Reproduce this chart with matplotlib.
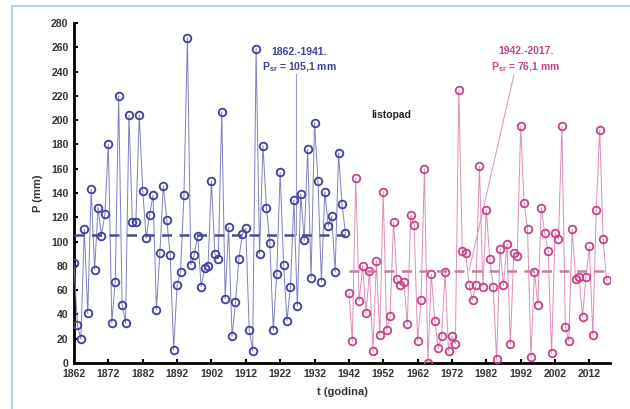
import numpy as np
import matplotlib
matplotlib.use("Agg")
import matplotlib.pyplot as plt
from matplotlib.lines import Line2D

plt.rcParams['font.family'] = ['Liberation Sans', 'DejaVu Sans']
plt.rcParams['mathtext.fontset'] = 'custom'
plt.rcParams['mathtext.rm'] = 'Liberation Sans:bold'
plt.rcParams['mathtext.it'] = 'Liberation Sans:bold'

# November precipitation, two periods
years1 = list(range(1862, 1942))
p1 = [82, 31, 20, 110, 41, 143, 77, 128, 105, 123,
      180, 33, 67, 220, 48, 33, 204, 116, 116, 204,
      142, 103, 122, 138, 44, 91, 146, 118, 89, 11,
      64, 75, 138, 268, 81, 89, 105, 63, 78, 80,
      150, 90, 86, 207, 53, 112, 22, 50, 86, 106,
      111, 27, 10, 259, 90, 179, 128, 99, 27, 73,
      157, 81, 35, 63, 134, 47, 139, 101, 176, 70,
      198, 150, 67, 141, 113, 121, 75, 173, 131, 107]
years2 = list(range(1942, 2018))
p2 = [58, 18, 152, 51, 80, 41, 76, 10, 84, 23,
      141, 27, 39, 116, 69, 64, 67, 32,
      122, 114, 18, 52, 160, 0, 73, 35, 12, 22,
      75, 10, 22, 16, 225, 92, 91, 64, 52, 64,
      162, 63, 126, 86, 63, 3, 94, 64, 98, 16,
      91, 88, 195, 132, 110, 5, 75, 48, 128, 107,
      92, 8, 107, 102, 195, 30, 18, 110, 69, 71,
      38, 71, 96, 23, 126, 192, 102, 68]
mean1 = 105.1
mean2 = 76.1
xticks = list(range(1862, 2013, 10))
yticks = list(range(0, 281, 20))

blue = "#3f3f9e"
blue_line = "#7f7fc4"
pink = "#c8408a"
pink_line = "#e08cb8"

fig = plt.figure(figsize=(6.3, 4.09), dpi=100)
ax = fig.add_axes([74/630, 1 - 363/409, 536/630, 340/409])

ax.plot(years1, p1, color=blue_line, lw=0.7, marker='o', ms=5.5,
        mfc='none', mec=blue, mew=1.3, zorder=3)
ax.plot(years2, p2, color=pink_line, lw=0.7, marker='o', ms=5.5,
        mfc='none', mec=pink, mew=1.3, zorder=3)
ax.plot([years1[0], years1[-1]], [mean1, mean1], color="#4a4a8c", lw=1.8,
        ls=(0, (4, 3)), zorder=4)
ax.plot([years2[0], years2[-1]], [mean2, mean2], color="#c87aa6", lw=1.8,
        ls=(0, (4, 3)), zorder=4)

ax.set_xlim(1862, 2018)
ax.set_ylim(0, 280)
ax.set_xticks(xticks)
ax.set_yticks(yticks)
ax.tick_params(direction='in', length=3, width=1.5, labelsize=7.5,
               labelcolor="#333333", pad=4)
for lab in ax.get_xticklabels() + ax.get_yticklabels():
    lab.set_fontweight('bold')
for s in ['top', 'right']:
    ax.spines[s].set_visible(False)
for s in ['left', 'bottom']:
    ax.spines[s].set_linewidth(2)
ax.set_ylabel("P (mm)", fontsize=8, fontweight='bold', color="#333333", labelpad=6)
ax.set_xlabel("t (godina)", fontsize=8, fontweight='bold', color="#333333", labelpad=6)

# annotations
ax.text(1927.5, 256, "1862.-1941.", color=blue, fontsize=7.5,
        fontweight='bold', ha='center', va='center')
ax.text(1927.5, 244, "P$_{sr}$ = 105,1 mm", color=blue, fontsize=7.5,
        fontweight='bold', ha='center', va='center')
ax.plot([1926.5, 1926.5], [238, mean1], color="#9a9ac8", lw=0.8, zorder=2)

ax.text(1993.5, 257, "1942.-2017.", color=pink, fontsize=7.5,
        fontweight='bold', ha='center', va='center')
ax.text(1993.5, 244, "P$_{sr}$ = 76,1 mm", color=pink, fontsize=7.5,
        fontweight='bold', ha='center', va='center')
ax.plot([1990, 1977], [237, mean2], color="#d8a0c0", lw=0.8, zorder=2)

ax.text(1948.5, 204, "listopad", color="#222222", fontsize=7.5,
        fontweight='bold', va='center')

# light blue frame
fig.add_artist(Line2D([12/630, 12/630], [0, 1 - 6/409], transform=fig.transFigure,
                      color="#a8d8e6", lw=1.5))
fig.add_artist(Line2D([12/630, 1], [1 - 6/409, 1 - 6/409], transform=fig.transFigure,
                      color="#a8d8e6", lw=1.5))

fig.savefig("out.png", dpi=100)
